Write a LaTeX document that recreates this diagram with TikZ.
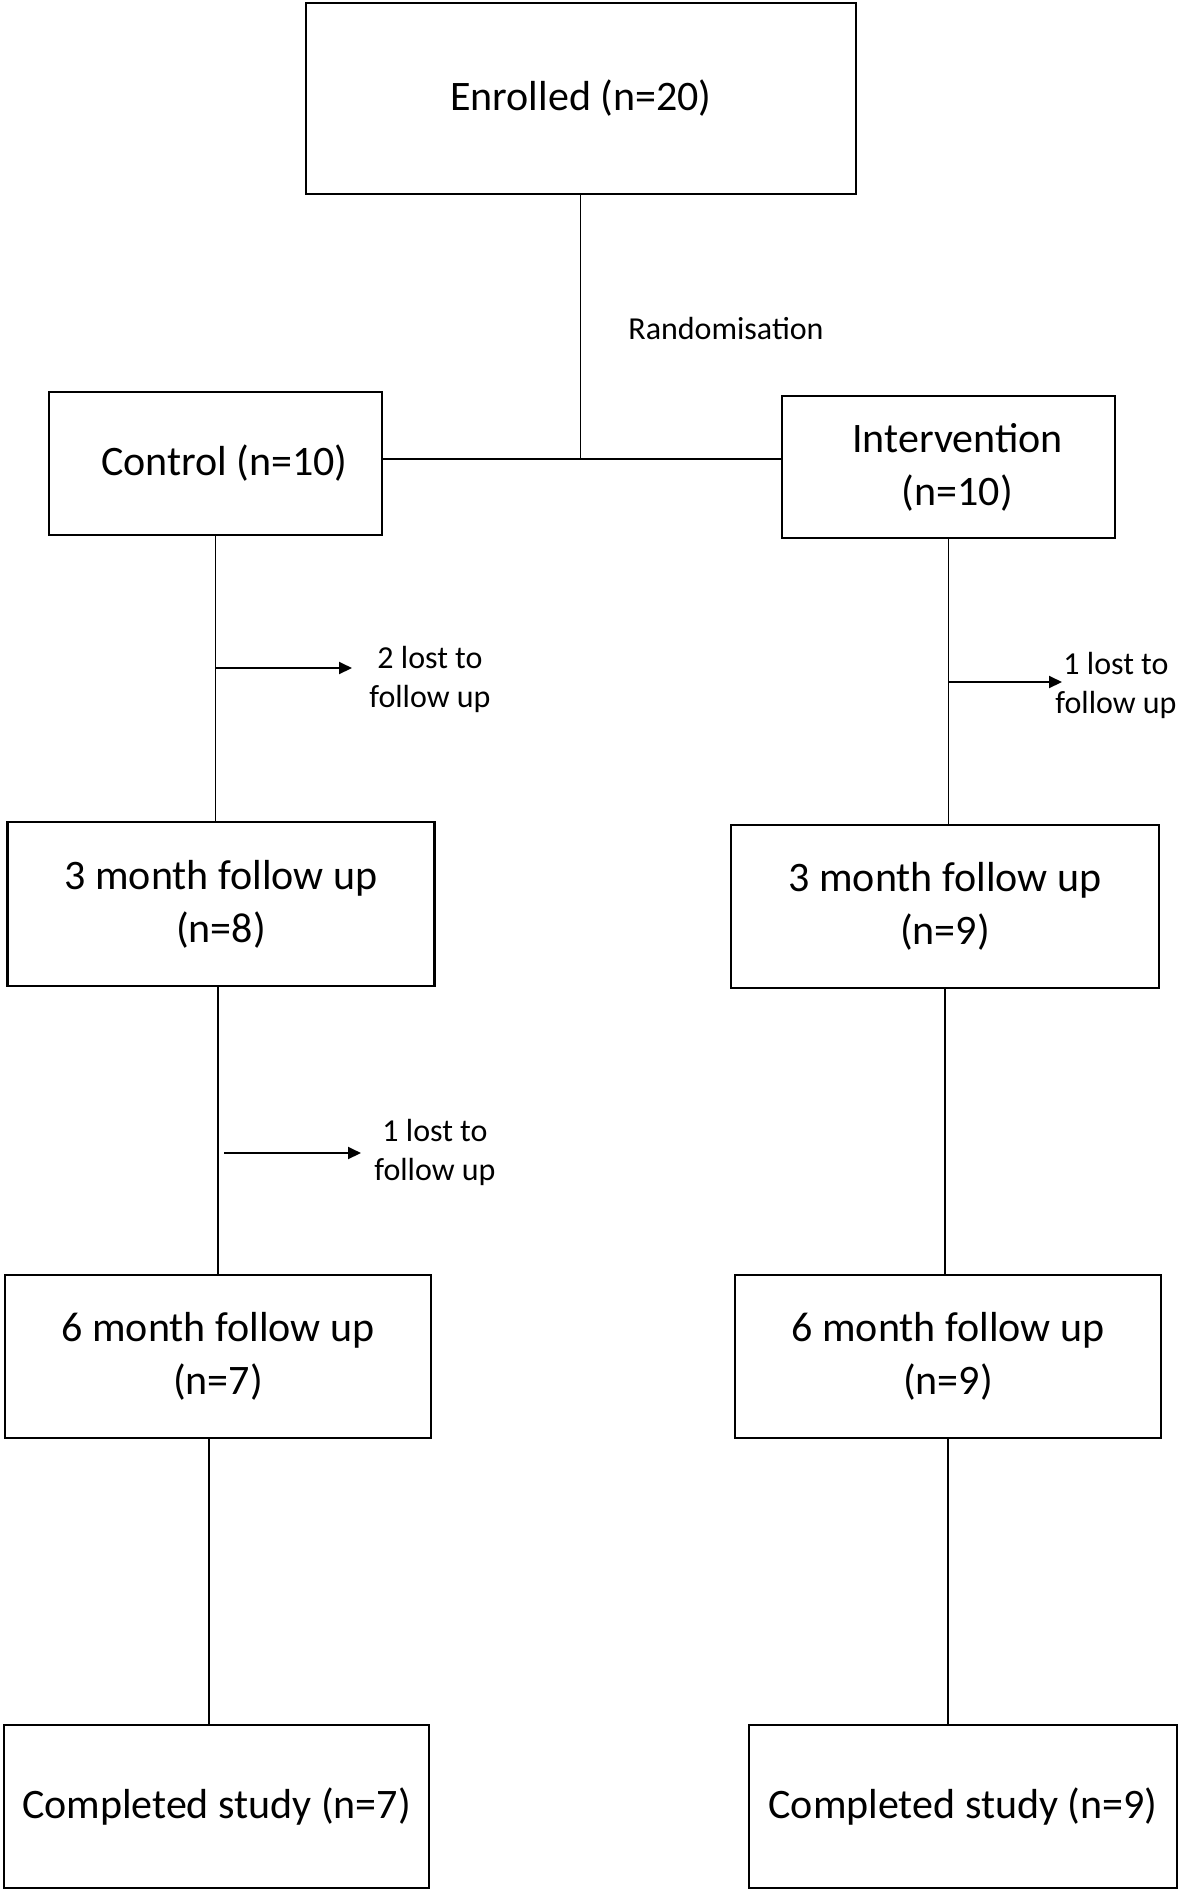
\documentclass[tikz,border=0pt]{standalone}
\usepackage{fontspec}
\setmainfont{Carlito}
\usetikzlibrary{arrows.meta}
\begin{document}
\begin{tikzpicture}[x=0.5pt,y=-0.5pt,
  box/.style={draw, line width=1.1pt, inner sep=0pt, align=center, font=\fontsize{21}{26.5}\selectfont},
  small/.style={inner sep=0pt, align=center, font=\fontsize{16}{19.5}\selectfont},
  conn/.style={line width=0.75pt},
  arr/.style={line width=1pt, -{Triangle[length=6.5pt,width=6pt]}}]
\useasboundingbox (0,0) rectangle (1181,1891);

% boxes
\node[box, minimum width=275pt, minimum height=95.5pt] (enr) at (581,98.5) {Enrolled (n=20)};
\node[box, minimum width=166.5pt, minimum height=71.5pt] (ctl) at (215.5,463.5) {\hspace*{9pt}Control (n=10)};
\node[box, minimum width=166.5pt, minimum height=71pt] (int) at (948.5,467) {\hspace*{9pt}Intervention\\\hspace*{9pt}(n=10)};
\node[box, minimum width=213.5pt, minimum height=82pt] (c3) at (221,904) {3 month follow up\\(n=8)};
\node[box, minimum width=214pt, minimum height=81.5pt] (i3) at (945,906.5) {3 month follow up\\(n=9)};
\node[box, minimum width=213pt, minimum height=81.5pt] (c6) at (218,1356.5) {6 month follow up\\(n=7)};
\node[box, minimum width=213pt, minimum height=81.5pt] (i6) at (948,1356.5) {6 month follow up\\(n=9)};
\node[box, minimum width=212.5pt, minimum height=81.5pt] (cc) at (216.5,1806.5) {Completed study (n=7)};
\node[box, minimum width=214.25pt, minimum height=81.5pt] (ic) at (963,1806.5) {Completed study (n=9)};

% labels
\node[small] (rand) at (726,329) {Randomisation};
\node[small] (lost1) at (430,679) {2 lost to\\follow up};
\node[small] (lost2) at (1116,685) {1 lost to\\follow up};
\node[small] (lost3) at (435,1152) {1 lost to\\follow up};

% randomisation split
\coordinate (split) at (580.5,459);
\draw[conn] (enr.south -| split) -- (split);
\draw[conn] (ctl.east |- split) -- (int.west |- split);

% control arm
\draw[conn] (ctl.south) -- (ctl.south |- c3.north);
\draw[conn] (c3.south -| c6.north) -- (c6.north);
\draw[conn] ([xshift=-4.5pt]c6.south) -- ([xshift=-4.5pt]c6.south |- cc.north);

% intervention arm
\draw[conn] (int.south) -- (int.south |- i3.north);
\draw[conn] (i3.south) -- (i3.south |- i6.north);
\draw[conn] (i6.south) -- (i6.south |- ic.north);

% lost to follow-up arrows
\coordinate (t1) at (352,668);
\coordinate (t2) at (1062,682);
\coordinate (t3) at (361,1153);
\draw[arr] (ctl.south |- t1) -- (t1);
\draw[arr] (int.south |- t2) -- (t2);
\draw[arr] ([xshift=3pt]c3.south -| c6.north) ++(0,0) coordinate (s3) (s3 |- t3) -- (t3);
\end{tikzpicture}
\end{document}
